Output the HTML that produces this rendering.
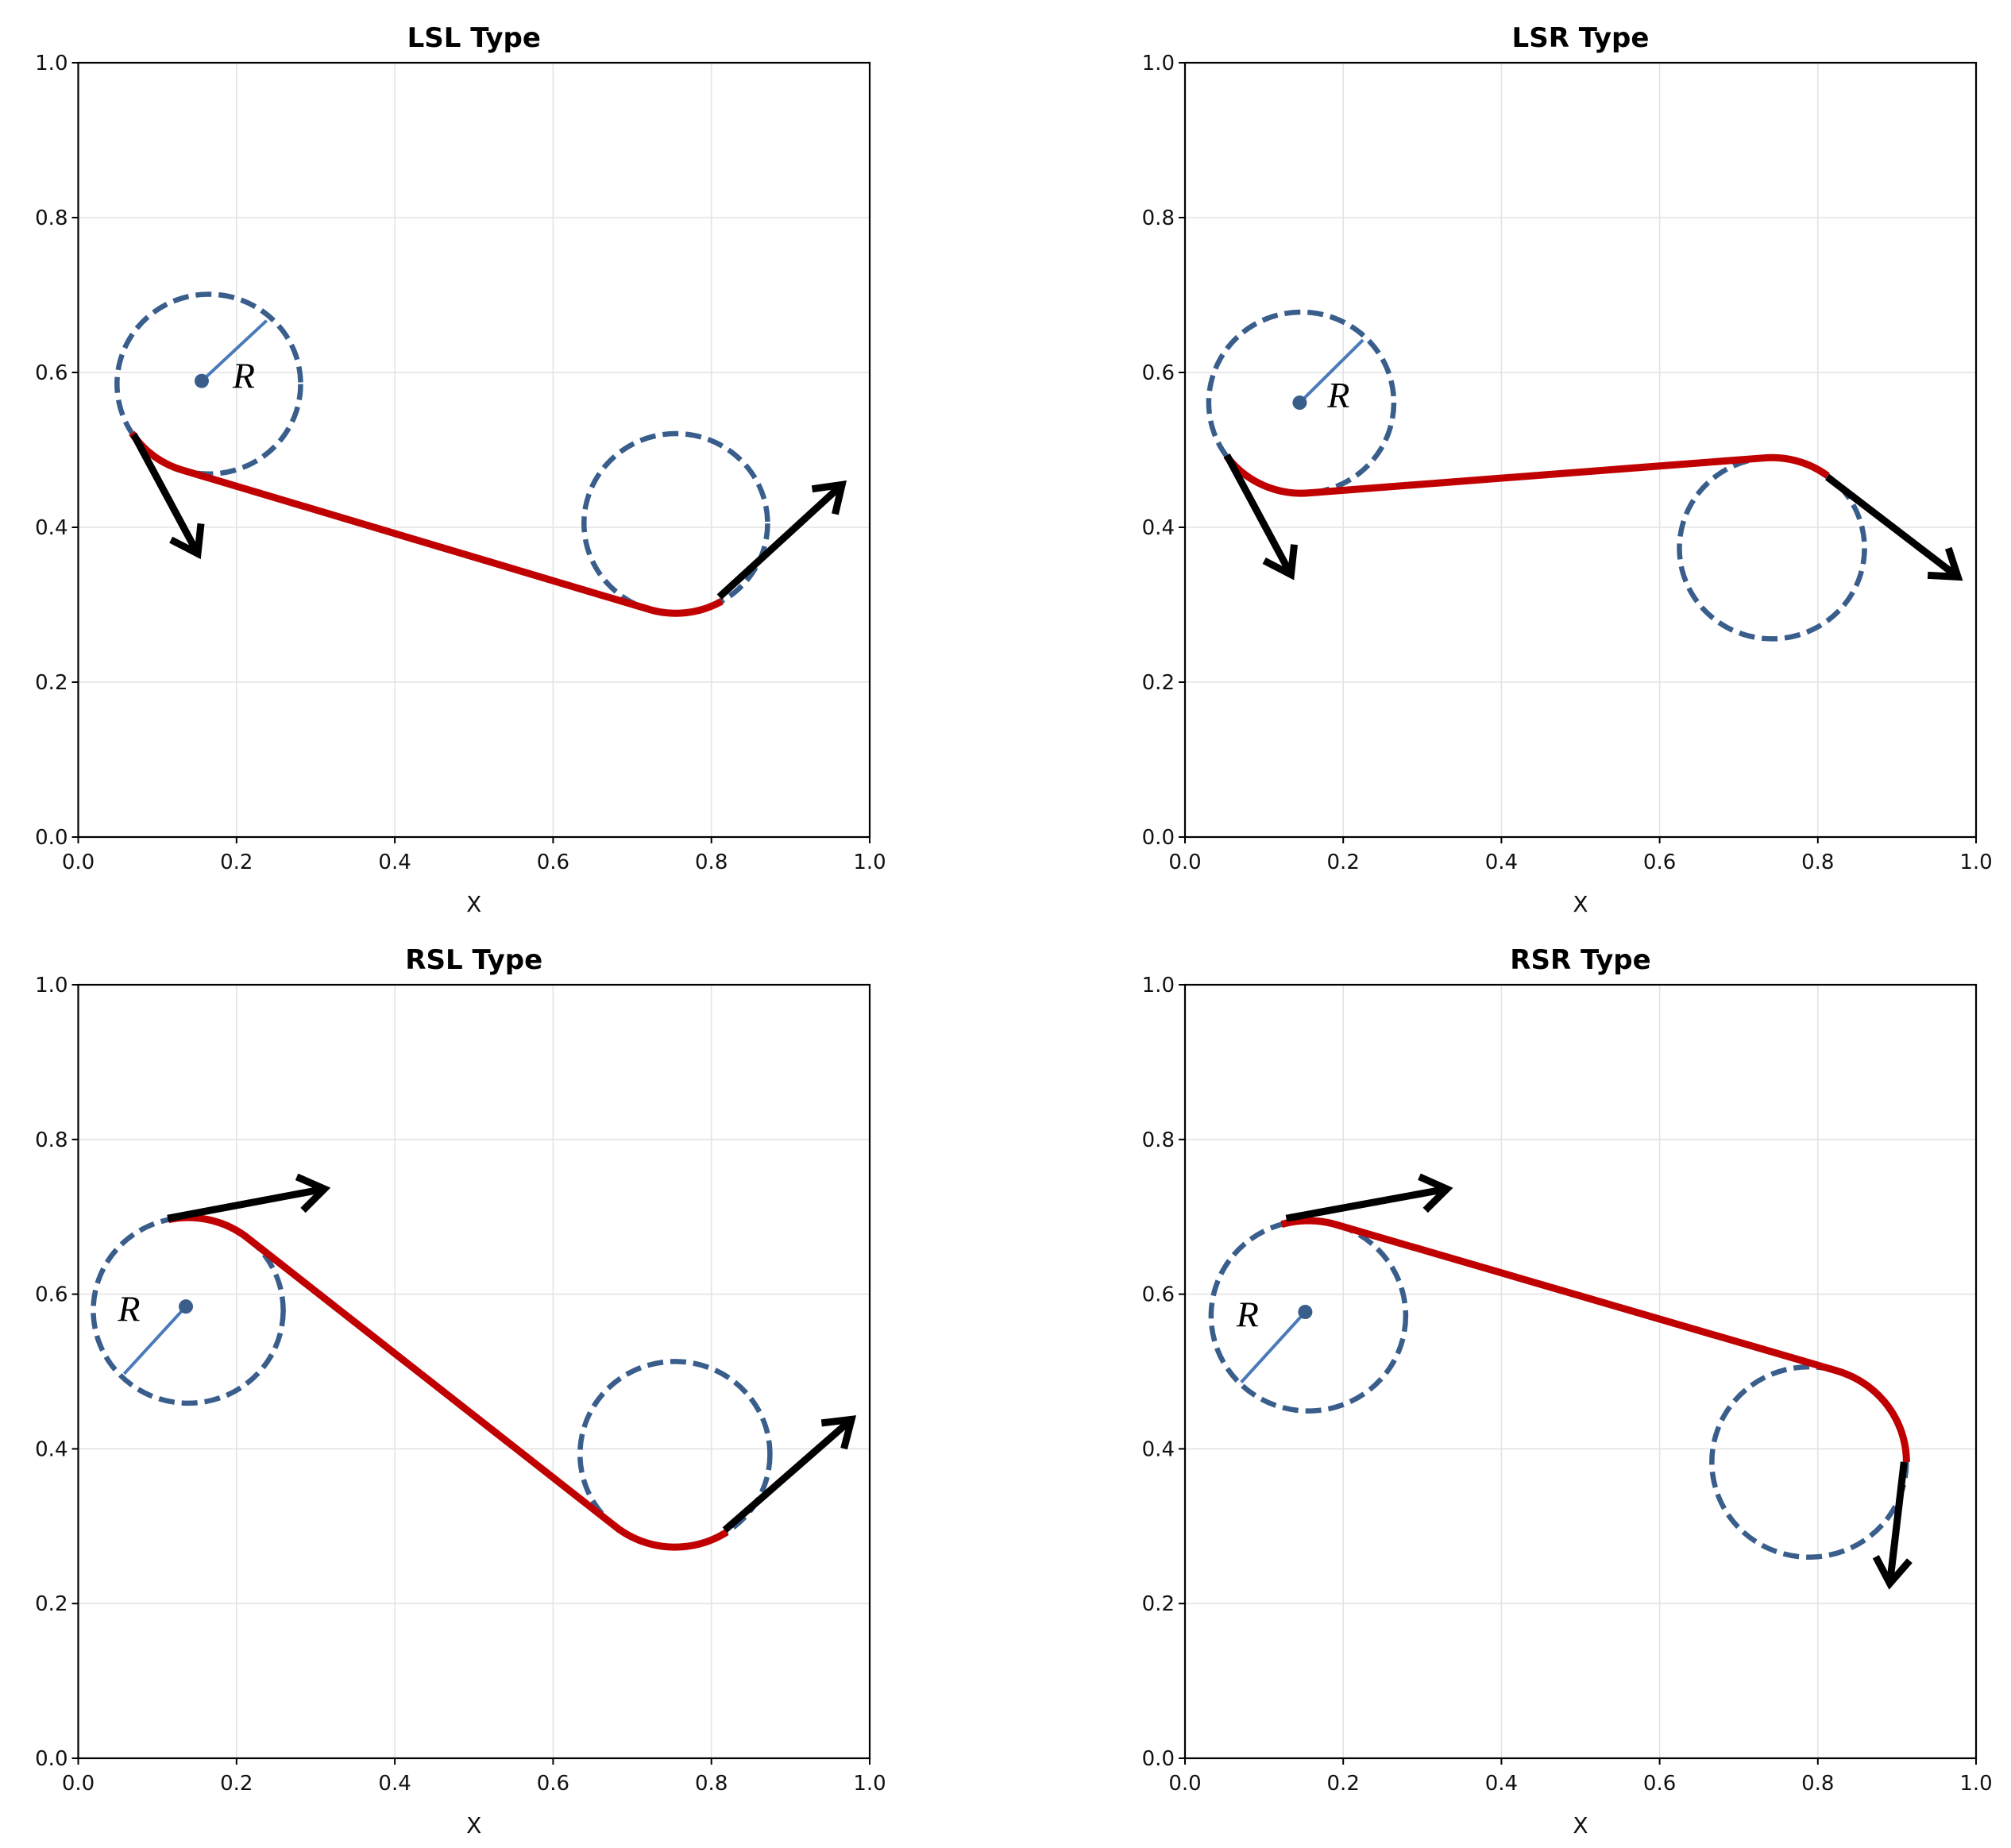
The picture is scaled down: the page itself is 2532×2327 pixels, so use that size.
<!DOCTYPE html>
<html><head><meta charset="utf-8"><style>
html,body{margin:0;padding:0;background:#fff}
svg{display:block}
text{font-family:"DejaVu Sans","Liberation Sans",sans-serif}
</style></head><body>
<svg id="fig" width="2532" height="2327" viewBox="0 0 2532 2327" xmlns="http://www.w3.org/2000/svg"></svg>
<script>
// ---- data ----
const titles = ["LSL Type", "LSR Type", "RSL Type", "RSR Type"];
const tickValues = [0.0, 0.2, 0.4, 0.6, 0.8, 1.0];
const tickLabels = ["0.0", "0.2", "0.4", "0.6", "0.8", "1.0"];
const circle1 = [[0.165,0.585],[0.147,0.561],[0.139,0.579],[0.156,0.572]];
const circle2 = [[0.755,0.405],[0.742,0.373],[0.754,0.393],[0.789,0.383]];
const radii = [0.116, 0.117, 0.12, 0.123];
const centerDot = [[0.156,0.589],[0.145,0.561],[0.136,0.584],[0.152,0.577]];
const radiusEnd = [[0.238,0.667],[0.225,0.642],[0.058,0.497],[0.071,0.486]];
const rLabel = [[0.195,0.58],[0.18,0.555],[0.05,0.565],[0.065,0.558]];
// arc angles (deg): arc1 start, arc1 end, arc2 start, arc2 end
const arc1Angles = [[213,252.5],[216,275],[102,53],[106,73.3]];
const arc2Angles = [[252.5,300],[95,53],[233,303],[73.3,0]];
const startArrowFrom = [[0.07,0.52],[0.053,0.493],[0.113,0.698],[0.128,0.698]];
const startArrowTo = [[0.151,0.366],[0.134,0.339],[0.311,0.736],[0.331,0.736]];
const endArrowFrom = [[0.81,0.31],[0.812,0.465],[0.817,0.295],[0.909,0.383]];
const endArrowTo = [[0.965,0.455],[0.977,0.336],[0.977,0.438],[0.891,0.226]];

// ---- layout ----
const panels = [
  {L:98.5,W:996.5,T:79,H:975},
  {L:1492,W:996,T:79,H:975},
  {L:98.5,W:996.5,T:1240,H:974},
  {L:1492,W:996,T:1240,H:974}
];
const NS="http://www.w3.org/2000/svg";
const svg=document.getElementById('fig');
function mk(tag,attrs,parent){const e=document.createElementNS(NS,tag);for(const k in attrs)e.setAttribute(k,attrs[k]);(parent||svg).appendChild(e);return e;}

panels.forEach((p,i)=>{
  const sx=v=>p.L+v*p.W, sy=v=>p.T+p.H-v*p.H;
  const g=mk('g',{});
  
  
  tickValues.forEach((t,k)=>{
    const gx=mk('line',{x1:sx(t),x2:sx(t),y1:p.T,y2:p.T+p.H,stroke:'#e3e3e3','stroke-width':1.6},g);
    
    
    const gy=mk('line',{x1:p.L,x2:p.L+p.W,y1:sy(t),y2:sy(t),stroke:'#e3e3e3','stroke-width':1.6},g);
    
    
    const tx=mk('line',{x1:sx(t),x2:sx(t),y1:p.T+p.H,y2:p.T+p.H+8,stroke:'#000','stroke-width':2},g);
    
    
    const ty=mk('line',{x1:p.L-8,x2:p.L,y1:sy(t),y2:sy(t),stroke:'#000','stroke-width':2},g);
    
    
    const lx=mk('text',{x:sx(t),y:p.T+p.H+40,'font-size':26,'text-anchor':'middle',fill:'#111'},g);
    lx.textContent=tickLabels[k];
    
    
    const ly=mk('text',{x:p.L-13,y:sy(t)+9,'font-size':26,'text-anchor':'end',fill:'#111'},g);
    ly.textContent=tickLabels[k];
    
    
  });
  const fr=mk('rect',{x:p.L,y:p.T,width:p.W,height:p.H,fill:'none',stroke:'#000','stroke-width':2.2},g);
  
  
  const tt=mk('text',{x:p.L+p.W/2,y:p.T-20,'font-size':34,'font-weight':'bold','text-anchor':'middle'},g);
  tt.textContent=titles[i];
  
  
  const xl=mk('text',{x:p.L+p.W/2,y:p.T+p.H+94,'font-size':28,'text-anchor':'middle',fill:'#111'},g);
  xl.textContent='X';
  
  

  const r=radii[i];
  [circle1[i],circle2[i]].forEach((c,ci)=>{
    const e=mk('ellipse',{cx:sx(c[0]),cy:sy(c[1]),rx:r*p.W,ry:r*p.H,fill:'none',stroke:'#3a5e8c','stroke-width':6.5,'stroke-dasharray':'20 9'},g);
    
    
  });
  function arcPts(c,a0,a1){const pts=[];const n=40;for(let k=0;k<=n;k++){const a=(a0+(a1-a0)*k/n)*Math.PI/180;pts.push([sx(c[0]+r*Math.cos(a)),sy(c[1]+r*Math.sin(a))]);}return pts;}
  const pts=arcPts(circle1[i],arc1Angles[i][0],arc1Angles[i][1]).concat(arcPts(circle2[i],arc2Angles[i][0],arc2Angles[i][1]));
  const path=mk('polyline',{points:pts.map(q=>q.join(',')).join(' '),fill:'none',stroke:'#c00000','stroke-width':9,'stroke-linejoin':'round','stroke-linecap':'butt'},g);
  
  
  const rl=mk('line',{x1:sx(centerDot[i][0]),y1:sy(centerDot[i][1]),x2:sx(radiusEnd[i][0]),y2:sy(radiusEnd[i][1]),stroke:'#4a7ab8','stroke-width':4},g);
  
  
  const cd=mk('circle',{cx:sx(centerDot[i][0]),cy:sy(centerDot[i][1]),r:9,fill:'#3a5e8c'},g);
  
  
  const rt=mk('text',{x:sx(rLabel[i][0]),y:sy(rLabel[i][1]),'font-size':46,style:'font-family:"Liberation Serif",serif;font-style:italic'},g);
  rt.textContent='R';
  
  
  function arrow(f,t,name){
    const x1=sx(f[0]),y1=sy(f[1]),x2=sx(t[0]),y2=sy(t[1]);
    const ang=Math.atan2(y2-y1,x2-x1),L=38,s=0.6;
    const d=`M${x1},${y1} L${x2},${y2} M${x2-L*Math.cos(ang-s)},${y2-L*Math.sin(ang-s)} L${x2},${y2} L${x2-L*Math.cos(ang+s)},${y2-L*Math.sin(ang+s)}`;
    const a=mk('path',{d:d,fill:'none',stroke:'#000','stroke-width':9,'stroke-linejoin':'miter','stroke-linecap':'butt'},g);
    
    
  }
  arrow(startArrowFrom[i],startArrowTo[i],'start-heading-arrow');
  arrow(endArrowFrom[i],endArrowTo[i],'end-heading-arrow');
});
</script>
</body></html>
